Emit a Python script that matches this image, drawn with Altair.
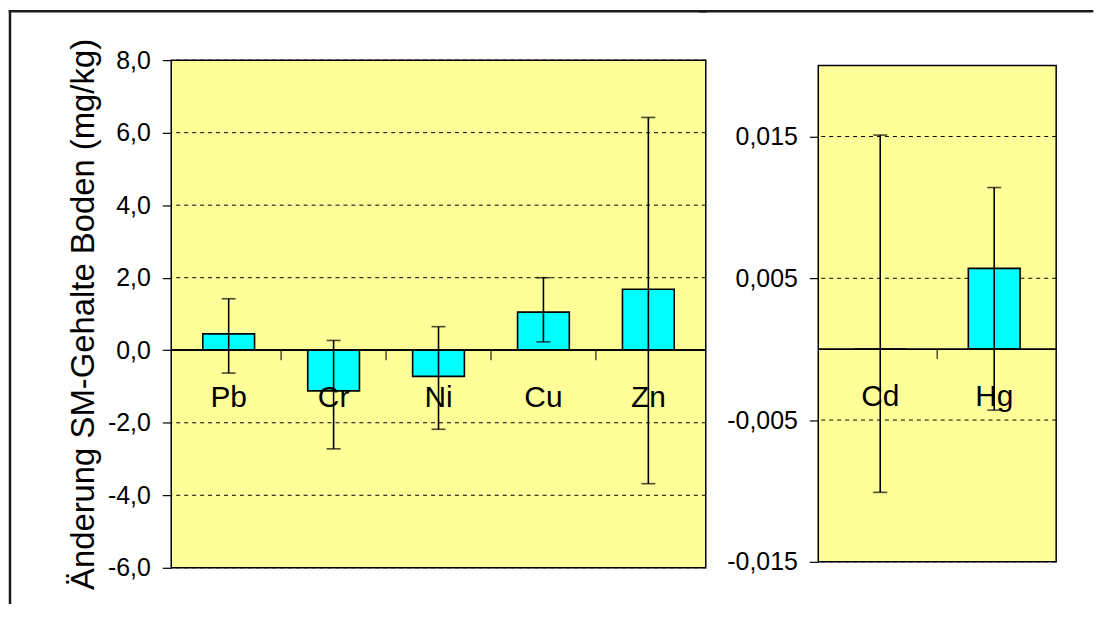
import altair as alt
import pandas as pd

# ---- data ----
left_cats = ["Pb", "Cr", "Ni", "Cu", "Zn"]
left_vals = [0.45, -1.12, -0.72, 1.05, 1.68]
left_lo = [-0.63, -2.72, -2.18, 0.23, -3.68]
left_hi = [1.42, 0.27, 0.65, 2.00, 6.42]
left_ticks = [-6, -4, -2, 0, 2, 4, 6, 8]
left_range = [-6, 8]

right_cats = ["Cd", "Hg"]
right_vals = [0.0, 0.0057]
right_lo = [-0.0101, -0.0043]
right_hi = [0.0151, 0.0114]
right_ticks = [-0.015, -0.005, 0.005, 0.015]
right_range = [-0.015, 0.02]

y_title = "Änderung SM-Gehalte Boden (mg/kg)"
FONT = "Liberation Sans"


def panel(cats, vals, lo, hi, rng, domain, ticks, decimals, width, height,
          title, border):
    n = len(cats)
    df = pd.DataFrame({"cat": cats, "idx": list(range(n)),
                       "val": vals, "lo": lo, "hi": hi})
    bdf = pd.DataFrame({"b": [i + 0.5 for i in range(n - 1)]})
    gdf = pd.DataFrame({"g": ticks})

    xscale = alt.Scale(domain=[-0.5, n - 0.5], nice=False, zero=False)
    yscale = alt.Scale(domain=domain, nice=False, zero=False)
    fmt = f".{decimals}f"
    yaxis = alt.Axis(
        values=ticks,
        labelExpr=f"replace(replace(format(datum.value, '{fmt}'), '.', ','), '\u2212', '-')",
        grid=False, domain=False, ticks=True, tickSize=9, tickColor="black",
        tickWidth=1.2, labelPadding=12, labelFont=FONT, labelFontSize=25,
        labelColor="black",
        titleFont=FONT, titleFontSize=33, titleFontWeight="normal",
        titleColor="black", titleAngle=-90, titleX=-78, titleY=height / 2,
        titleAlign="center", titleBaseline="alphabetic",
    )

    def Y(field):
        if title:
            return alt.Y(field, type="quantitative", scale=yscale, axis=yaxis, title=title)
        return alt.Y(field, type="quantitative", scale=yscale, axis=yaxis, title=None)

    X = alt.X("idx:Q", scale=xscale, axis=None)

    one = alt.Chart(pd.DataFrame({"a": [0]}))
    bg = one.mark_rect(fill="#FFFF99", stroke="black", strokeWidth=1.5).encode(
        x=alt.value(0), x2=alt.value(width),
        y=alt.datum(rng[0], scale=yscale), y2=alt.datum(rng[1]))
    grid = alt.Chart(gdf).mark_rule(color="black", strokeWidth=1,
                                    strokeDash=[4, 4]).encode(y=Y("g"))

    base = alt.Chart(df)
    bars = base.mark_bar(size=52, color="#00FFFF", stroke="black",
                         strokeWidth=1.6).encode(x=X, y=Y("val"))
    zero = base.mark_rule(color="black", strokeWidth=1.5).encode(
        y=alt.datum(0))
    err = base.mark_rule(color="black", strokeWidth=1.6).encode(
        x=X, y=Y("lo"), y2="hi")
    cap_lo = base.mark_tick(orient="horizontal", size=14, thickness=1.6,
                            color="black").encode(x=X, y=Y("lo"))
    cap_hi = base.mark_tick(orient="horizontal", size=14, thickness=1.6,
                            color="black").encode(x=X, y=Y("hi"))
    labels = base.mark_text(font=FONT, fontSize=30, color="black",
                            baseline="alphabetic", dy=57).encode(
        x=X, y=alt.datum(0), text="cat:N")
    bticks = alt.Chart(bdf).mark_tick(orient="vertical", size=10,
                                      thickness=1.5, color="black",
                                      yOffset=5).encode(
        x=alt.X("b:Q", scale=xscale, axis=None), y=alt.datum(0))

    deco = []
    for (x1, x2, y1, y2) in border:
        deco.append(one.mark_rule(color="#1a1a1a", strokeWidth=2.5,
                                  strokeCap="square").encode(
            x=alt.value(x1), x2=alt.value(x2), y=alt.value(y1), y2=alt.value(y2)))

    return alt.layer(bg, grid, bars, zero, err, cap_lo, cap_hi, labels, bticks,
                     *deco).properties(width=width, height=height)


# right panel: plot frame spans 63.5..562 on the page, inside a 58..568 cell
r_px = (562 - 63.5) / (right_range[1] - right_range[0])
right_domain = [right_range[0] - 6 / r_px, right_range[1] + 5.5 / r_px]

left = panel(left_cats, left_vals, left_lo, left_hi, left_range, left_range,
             left_ticks, 1, 537, 510, y_title,
             border=[(-162, 537, -49, -49), (-162, -162, -49, 545)])
right = panel(right_cats, right_vals, right_lo, right_hi, right_range,
              right_domain, right_ticks, 3, 239, 510, None,
              border=[(-118.5, 275, -49, -49)])

chart = alt.hconcat(left, right, spacing=-10).properties(
    padding=0, background="white"
).configure_view(stroke=None)

chart.save("out.html", embed_options={"renderer": "svg", "actions": False})
